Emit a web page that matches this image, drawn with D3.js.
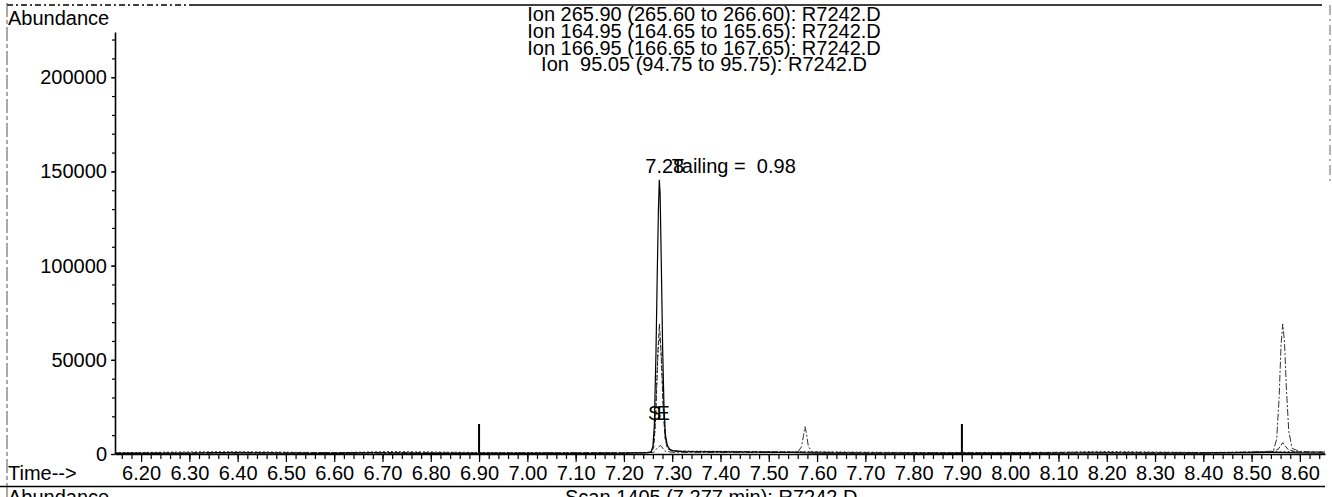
<!DOCTYPE html>
<html><head><meta charset="utf-8">
<script src="https://cdn.jsdelivr.net/npm/d3@7"></script>
<style>
html,body{margin:0;padding:0;background:#fff;overflow:hidden;}
svg text{font-family:"Liberation Sans",Arial,Helvetica,sans-serif;font-size:20px;fill:#000;white-space:pre;}
</style></head><body>
<svg id="chart" width="1332" height="497"></svg>
<script>
// ---- data ----
const titleLines = [
  "Ion 265.90 (265.60 to 266.60): R7242.D",
  "Ion 164.95 (164.65 to 165.65): R7242.D",
  "Ion 166.95 (166.65 to 167.65): R7242.D",
  "Ion  95.05 (94.75 to 95.75): R7242.D"
];
const yTickValues = [0, 50000, 100000, 150000, 200000];
const xTickValues = [6.20, 6.30, 6.40, 6.50, 6.60, 6.70, 6.80, 6.90, 7.00, 7.10, 7.20, 7.30, 7.40, 7.50, 7.60, 7.70, 7.80, 7.90, 8.00, 8.10, 8.20, 8.30, 8.40, 8.50, 8.60];
const xDomain = [6.146, 8.652];
const yDomain = [0, 224000];

// Ion 265.90 (solid trace)
const ion265Times  = [6.146, 6.20, 6.30, 6.36, 6.42, 6.50, 6.60, 6.68, 6.74, 6.80, 6.90, 7.00, 7.10, 7.20, 7.245, 7.256, 7.260, 7.263, 7.2665, 7.269, 7.2715, 7.2733, 7.275, 7.2775, 7.2803, 7.283, 7.286, 7.290, 7.295, 7.300, 7.320, 7.400, 7.500, 7.550, 7.600, 7.700, 7.800, 7.900, 8.000, 8.100, 8.200, 8.300, 8.400, 8.500, 8.550, 8.600, 8.652];
const ion265Values = [300, 300, 400, 700, 600, 400, 350, 600, 500, 350, 300, 300, 350, 400, 600, 1000, 4000, 15000, 55000, 95000, 130000, 145500, 138000, 100000, 55000, 25000, 10000, 4500, 2500, 1800, 1300, 1100, 900, 800, 500, 400, 400, 350, 350, 400, 600, 400, 500, 700, 900, 600, 400];

// Ion 164.95 (dashed trace)
const ion164Times  = [6.146, 6.30, 6.40, 6.50, 6.70, 6.90, 7.10, 7.250, 7.258, 7.262, 7.266, 7.270, 7.2735, 7.277, 7.281, 7.285, 7.290, 7.300, 7.350, 7.500, 7.700, 7.900, 8.150, 8.400, 8.540, 8.555, 8.5645, 8.575, 8.590, 8.652];
const ion164Values = [500, 600, 900, 700, 800, 500, 600, 700, 1200, 4000, 20000, 52000, 69000, 54000, 26000, 9000, 3000, 1500, 1300, 1200, 700, 600, 900, 700, 1000, 2500, 6000, 2500, 1200, 900];

// Ion 166.95 (dotted trace)
const ion166Times  = [6.146, 6.35, 6.45, 6.60, 6.72, 6.90, 7.20, 7.255, 7.260, 7.264, 7.268, 7.2715, 7.275, 7.2785, 7.282, 7.286, 7.292, 7.305, 7.400, 7.550, 7.800, 8.100, 8.180, 8.400, 8.560, 8.652];
const ion166Values = [700, 1200, 1100, 700, 1300, 800, 700, 900, 2500, 12000, 38000, 58000, 62000, 47000, 22000, 7000, 2500, 1600, 1400, 1300, 800, 900, 1400, 800, 1300, 1100];

// Ion 95.05 (dash-dot trace)
const ion95Times  = [6.146, 6.40, 6.70, 6.90, 7.20, 7.262, 7.270, 7.276, 7.285, 7.30, 7.45, 7.560, 7.568, 7.572, 7.575, 7.578, 7.582, 7.590, 7.700, 7.900, 8.200, 8.450, 8.545, 8.552, 8.557, 8.561, 8.5645, 8.568, 8.572, 8.577, 8.584, 8.600, 8.652];
const ion95Values = [400, 500, 500, 400, 500, 900, 3500, 4500, 1500, 900, 800, 800, 4000, 10000, 14500, 11000, 4000, 900, 600, 500, 600, 700, 1500, 8000, 30000, 58000, 69000, 60000, 35000, 12000, 3000, 1200, 1000];

const windowMarkTimes = [6.90, 7.90];
const peakRtLabel = "7.28";
const tailingLabel = "Tailing =  0.98";
const peakApexTime = 7.2733;
const peakApexValue = 145500;
const startEndTimes = [7.2635, 7.2815];
const startEndLabels = ["S", "E"];

// ---- drawing ----
const svg = d3.select("#chart");
const x = d3.scaleLinear().domain(xDomain).range([115, 1325]);
const y = d3.scaleLinear().domain(yDomain).range([454, 32]);

// page frame artefacts
const frame = svg.append("g").attr("stroke", "#000").attr("fill", "none");
frame.append("line").attr("x1", 7).attr("x2", 190).attr("y1", 5).attr("y2", 5).attr("stroke-width", 1.5).attr("stroke-dasharray", "6,3,2,3");
frame.append("line").attr("x1", 190).attr("x2", 1322).attr("y1", 5).attr("y2", 5).attr("stroke-width", 1.3);
frame.append("line").attr("x1", 7).attr("x2", 7).attr("y1", 3).attr("y2", 497).attr("stroke-width", 1).attr("stroke", "#555").attr("stroke-dasharray", "14,3,4,3");
frame.append("line").attr("x1", 1330).attr("x2", 1330).attr("y1", 5).attr("y2", 182).attr("stroke-width", 1).attr("stroke", "#666").attr("stroke-dasharray", "10,4,2,4");
frame.append("line").attr("x1", 0).attr("x2", 1325).attr("y1", 486.5).attr("y2", 486.5).attr("stroke-width", 1.4);

// y axis
const yAxis = d3.axisLeft(y).tickValues(yTickValues).tickSizeInner(4).tickSizeOuter(0).tickPadding(4).tickFormat(d3.format("d"));
svg.append("g").attr("transform", "translate(115,0)").call(yAxis);
const yMinor = d3.axisLeft(y).tickValues(d3.range(0, 220001, 10000)).tickSize(3).tickFormat("");
svg.append("g").attr("transform", "translate(115,0)").call(yMinor).select(".domain").remove();

// x axis
const xAxis = d3.axisBottom(x).tickValues(xTickValues).tickSizeInner(8).tickSizeOuter(0).tickPadding(4).tickFormat(d3.format(".2f"));
svg.append("g").attr("transform", "translate(0,454)").call(xAxis);
const minorTimes = d3.range(6.16, 8.651, 0.02).map(v => +v.toFixed(2));
const xMinor = d3.axisBottom(x).tickValues(minorTimes).tickSize(5).tickFormat("");
svg.append("g").attr("transform", "translate(0,454)").call(xMinor).select(".domain").remove();

svg.selectAll(".domain").attr("stroke", "#000").attr("stroke-width", 1.6);
svg.selectAll(".tick line").attr("stroke", "#000").attr("stroke-width", 1.2);
svg.selectAll(".tick text").style("font-size", "20px").style("font-family", "'Liberation Sans',Arial,sans-serif").attr("fill", "#000");

// integration window marks
svg.append("g").selectAll("line").data(windowMarkTimes).join("line")
  .attr("x1", d => x(d)).attr("x2", d => x(d))
  .attr("y1", y(0)).attr("y2", y(0) - 30)
  .attr("stroke", "#000").attr("stroke-width", 2);

// traces
const line = d3.line();
function trace(times, values, dash, width, color) {
  svg.append("path")
    .attr("d", line(times.map((t, i) => [x(t), y(values[i])])))
    .attr("fill", "none").attr("stroke", color).attr("stroke-width", width)
    .attr("stroke-dasharray", dash);
}
trace(ion166Times, ion166Values, "2,2", 1, "#333");
trace(ion95Times, ion95Values, "7,2,2,2", 1, "#333");
trace(ion164Times, ion164Values, "5,2", 1, "#222");
trace(ion265Times, ion265Values, null, 1.2, "#000");

// labels on peak
svg.append("text").attr("x", x(peakApexTime) - 14).attr("y", y(peakApexValue) - 7).text(peakRtLabel);
svg.append("text").attr("x", x(peakApexTime) + 12.5).attr("y", y(peakApexValue) - 7).text(tailingLabel);
svg.append("g").selectAll("text").data(startEndTimes).join("text")
  .attr("x", d => x(d)).attr("y", 420).attr("text-anchor", "middle")
  .text((d, i) => startEndLabels[i]);

// titles and axis captions
svg.append("g").selectAll("text").data(titleLines).join("text")
  .attr("x", 704).attr("y", (d, i) => 21 + i * 16.8).attr("text-anchor", "middle").text(d => d);
svg.append("text").attr("x", 8).attr("y", 25).text("Abundance");
svg.append("text").attr("x", 8).attr("y", 480).text("Time-->");
svg.append("text").attr("x", 8).attr("y", 504).text("Abundance");
svg.append("text").attr("x", 565).attr("y", 504).text("Scan 1405 (7.277 min): R7242.D");
</script>
</body></html>
